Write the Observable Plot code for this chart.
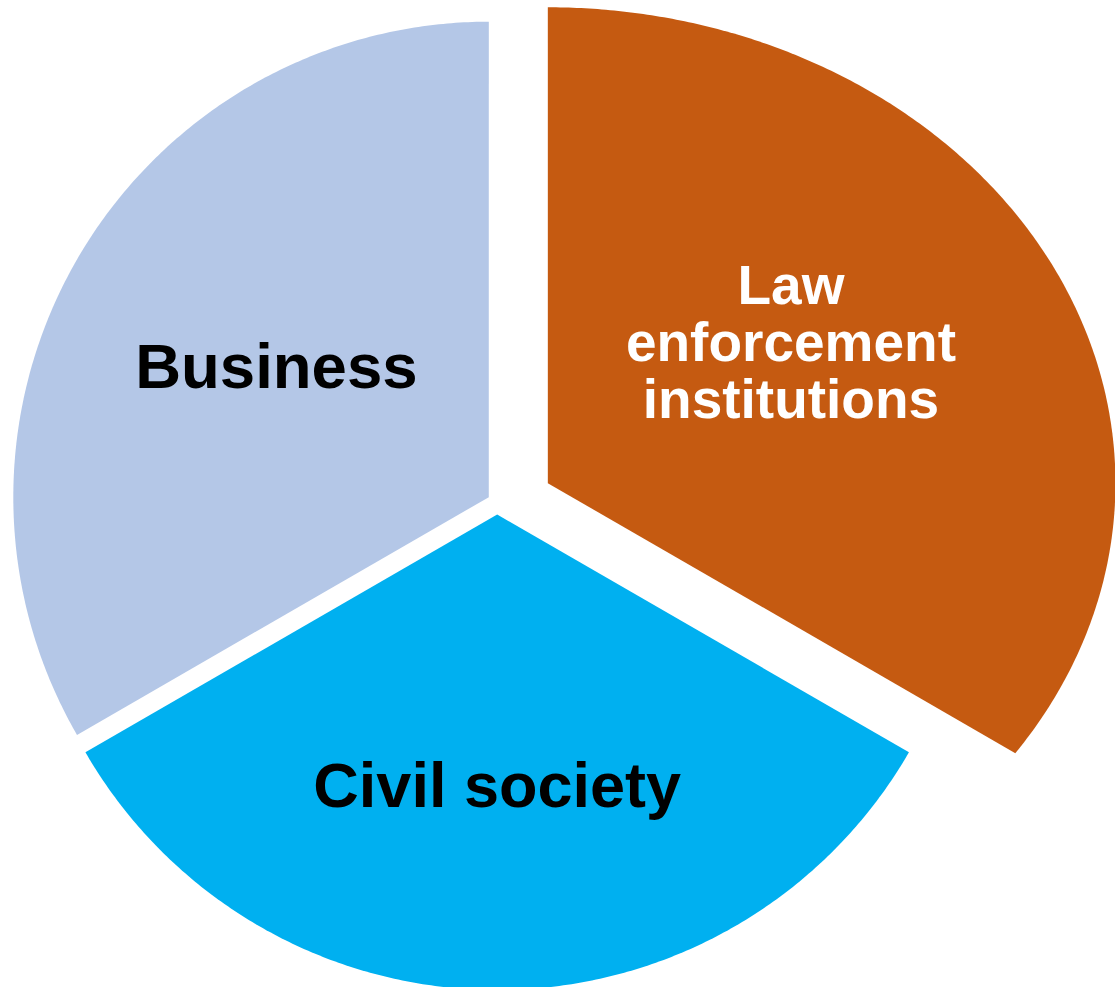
<!DOCTYPE html>
<html>
<head>
<meta charset="utf-8">
<script src="https://cdn.jsdelivr.net/npm/d3@7"></script>
<script src="https://cdn.jsdelivr.net/npm/@observablehq/plot@0.6"></script>
<style>
  html, body { margin: 0; padding: 0; background: #ffffff; }
  #chart svg { display: block; }
</style>
</head>
<body>
<div id="chart"></div>
<script>
// ---- data ----
const categories = ["Law enforcement institutions", "Civil society", "Business"];
const values = [1, 1, 1];
const labelTexts = ["Law\nenforcement\ninstitutions", "Civil society", "Business"];

// ---- styles / geometry (not data) ----
const sliceColors = ["#C55A11", "#00B0F0", "#B4C7E7"];
const textColors = ["#FFFFFF", "#000000", "#000000"];
const fontSizes = [55, 63, 63.5];
const W = 1115, H = 987;
const unit = 475;                 // px per radius unit
const cx = 496.5, cy = 502;       // pie centre in px
// per-slice explosion offset (units, y up) and radii (units)
const offsets = [[0.107, 0.0406], [0.0004, -0.0253], [-0.0173, 0.0112]];
const radiiX = [1.195, 1.001, 1.001];
const radiiY = [1.002, 1.001, 1.001];
const labelFrac = [0.52, 0.572, 0.524];
const labelTurn = [0, 0, 1.5];    // degrees, clockwise tweak of label direction

const arcs = d3.pie().sort(null).startAngle(0).endAngle(2 * Math.PI)(values);

function rAt(i, t) {
  const a = Math.sin(t) / radiiX[i], b = Math.cos(t) / radiiY[i];
  return 1 / Math.sqrt(a * a + b * b);
}

const slicePts = [];
const labels = [];
arcs.forEach((arc, i) => {
  const [ox, oy] = offsets[i];
  slicePts.push({cat: categories[i], x: ox, y: oy});
  const steps = 240;
  for (let k = 0; k <= steps; k++) {
    const t = arc.startAngle + (arc.endAngle - arc.startAngle) * k / steps;
    const r = rAt(i, t);
    slicePts.push({cat: categories[i], x: ox + r * Math.sin(t), y: oy + r * Math.cos(t)});
  }
  slicePts.push({cat: categories[i], x: ox, y: oy});
  const tm = (arc.startAngle + arc.endAngle) / 2 + labelTurn[i] * Math.PI / 180;
  const rm = rAt(i, tm) * labelFrac[i];
  labels.push({
    cat: categories[i], text: labelTexts[i],
    x: ox + rm * Math.sin(tm), y: oy + rm * Math.cos(tm),
    color: textColors[i], size: fontSizes[i]
  });
});

const chart = Plot.plot({
  width: W,
  height: H,
  margin: 0,
  style: {background: "#ffffff", overflow: "visible"},
  x: {domain: [-cx / unit, (W - cx) / unit], range: [0, W], axis: null},
  y: {domain: [-(H - cy) / unit, cy / unit], range: [H, 0], axis: null},
  color: {domain: categories, range: sliceColors},
  marks: [
    Plot.line(slicePts, {x: "x", y: "y", z: "cat", fill: "cat", stroke: "none", curve: "linear"}),
    Plot.text(labels, {
      x: "x", y: "y", text: "text",
      fill: d => d.color,
      fontSize: "size",
      fontWeight: "bold",
      fontFamily: "Liberation Sans, Arial, sans-serif",
      lineHeight: 1.04,
      textAnchor: "middle",
      lineAnchor: "middle"
    })
  ]
});
document.getElementById("chart").appendChild(chart);
</script>
</body>
</html>
